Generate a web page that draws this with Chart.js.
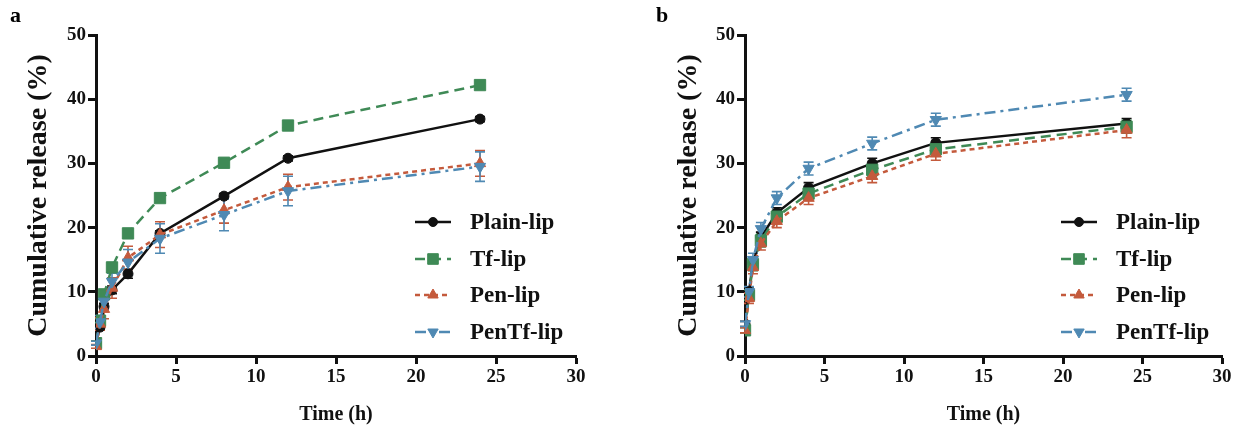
<!DOCTYPE html>
<html>
<head>
<meta charset="utf-8">
<script src="https://cdn.jsdelivr.net/npm/chart.js@4"></script>
<style>
  body { margin: 0; background: #fff; }
  #wrap { position: relative; width: 1257px; height: 431px; }
  .panel { position: absolute; top: 0; height: 431px; }
  .tag { position: absolute; top: 2px; font: bold 22px "Liberation Serif", serif; }
</style>
</head>
<body>
<div id="wrap">
  <div class="panel" style="left:0;width:628px"><canvas id="chartA"></canvas></div>
  <div class="panel" style="left:628px;width:629px"><canvas id="chartB"></canvas></div>
  <div class="tag" style="left:10px">a</div>
  <div class="tag" style="left:656px">b</div>
</div>
<script>
// time points (h)
const times = [0, 0.25, 0.5, 1, 2, 4, 8, 12, 24];
const seriesNames = ['Plain-lip', 'Tf-lip', 'Pen-lip', 'PenTf-lip'];

// panel a values (%)
const plainA = [2, 4.5, 7.7, 10.3, 12.8, 19.1, 24.9, 30.8, 36.9];
const tfA    = [2, 5.5, 9.6, 13.8, 19.1, 24.6, 30.1, 35.9, 42.2];
const penA   = [1.5, 5, 7.3, 10.6, 15.3, 18.9, 22.7, 26.3, 30];
const pentfA = [2, 5.3, 8.5, 11.6, 14.6, 18.3, 22, 25.7, 29.5];
// panel a error bars (+/-)
const plainAErr = [0.3, 0.4, 0.5, 0.6, 0.7, 0.4, 0.4, 0.4, 0.4];
const tfAErr    = [0.3, 0.3, 0.4, 0.4, 0.4, 0.4, 0.4, 0.5, 0.5];
const penAErr   = [0.3, 1, 1.5, 1.6, 1.8, 2, 2, 2, 2];
const pentfAErr = [0.3, 1, 1.2, 1.3, 2, 2.3, 2.5, 2.3, 2.3];

// panel b values (%)
const plainB = [5, 10, 14.5, 18.5, 22.3, 26.2, 30, 33.2, 36.2];
const tfB    = [4, 9.5, 14.3, 18, 21.7, 25.3, 29, 32.2, 35.7];
const penB   = [4, 9, 13.8, 17.5, 21, 24.6, 28, 31.5, 35.2];
const pentfB = [5, 10, 15, 19.8, 24.6, 29.2, 33.1, 36.8, 40.7];
// panel b error bars (+/-)
const plainBErr = [0.4, 0.6, 0.8, 0.8, 0.8, 0.8, 0.8, 0.8, 0.8];
const tfBErr    = [0.4, 0.8, 1, 1, 1, 1, 1, 1, 1];
const penBErr   = [0.4, 0.8, 1, 1, 1, 1, 1, 1, 1.2];
const pentfBErr = [0.4, 0.8, 1, 1, 1, 1, 1, 1, 1];

const yTicks = [0, 10, 20, 30, 40, 50];
const xTicks = [0, 5, 10, 15, 20, 25, 30];

const colors = ['#111111', '#3f8a56', '#c45a3c', '#4f89b3'];
const dashes = [[], [10, 6], [5, 4], [11, 5, 3, 5]];
const points = ['circle', 'rect', 'triangle', 'triangle'];
const rotations = [0, 0, 0, 180];
const radii = [5, 8, 6.5, 6.5];

const serif = '"Liberation Serif", "Times New Roman", serif';

function makeDatasets(valueLists) {
    return valueLists.map((vals, i) => ({
        label: seriesNames[i],
        data: vals.map((v, j) => ({ x: times[j], y: v })),
        borderColor: colors[i],
        backgroundColor: colors[i],
        borderDash: dashes[i],
        borderWidth: 2.5,
        pointStyle: points[i],
        pointRotation: rotations[i],
        pointRadius: radii[i],
        pointBorderWidth: 1,
        tension: 0,
        order: 4 - i
    }));
}

// error bars through the y scale
const errorBars = {
    id: 'errorBars',
    beforeDatasetsDraw(chart, args, opts) {
        const ctx = chart.ctx;
        const ys = chart.scales.y;
        chart.data.datasets.forEach((ds, i) => {
            const meta = chart.getDatasetMeta(i);
            const errs = opts.errors[i];
            ctx.save();
            ctx.strokeStyle = colors[i];
            ctx.lineWidth = 1.6;
            meta.data.forEach((pt, j) => {
                const v = ds.data[j].y;
                const top = ys.getPixelForValue(v + errs[j]);
                const bot = ys.getPixelForValue(v - errs[j]);
                ctx.beginPath();
                ctx.moveTo(pt.x, top); ctx.lineTo(pt.x, bot);
                ctx.moveTo(pt.x - 5, top); ctx.lineTo(pt.x + 5, top);
                ctx.moveTo(pt.x - 5, bot); ctx.lineTo(pt.x + 5, bot);
                ctx.stroke();
            });
            ctx.restore();
        });
    }
};

// legend inside the plot, bottom right
const insideLegend = {
    id: 'insideLegend',
    afterDraw(chart) {
        const ctx = chart.ctx;
        const area = chart.chartArea;
        const rows = [-134, -97, -61, -24];
        chart.data.datasets.forEach((ds, i) => {
            const y = area.bottom + rows[i];
            const x0 = area.right - 161;
            ctx.save();
            ctx.strokeStyle = colors[i];
            ctx.lineWidth = 2.5;
            ctx.setLineDash(dashes[i]);
            ctx.beginPath();
            ctx.moveTo(x0, y); ctx.lineTo(x0 + 36, y);
            ctx.stroke();
            ctx.setLineDash([]);
            ctx.fillStyle = colors[i];
            ctx.lineWidth = 1;
            Chart.helpers.drawPoint(ctx, {
                pointStyle: points[i], rotation: rotations[i], radius: radii[i] - 0.5, borderWidth: 1
            }, x0 + 18, y);
            ctx.fillStyle = '#111';
            ctx.font = 'bold 23px ' + serif;
            ctx.textBaseline = 'middle';
            ctx.fillText(ds.label, x0 + 55, y + 1);
            ctx.restore();
        });
    }
};

function makeChart(canvasId, valueLists, errLists, yAxisWidth, rightPad, titleOffset) {
    return new Chart(document.getElementById(canvasId), {
        type: 'line',
        data: { datasets: makeDatasets(valueLists) },
        options: {
            responsive: true,
            maintainAspectRatio: false,
            animation: false,
            layout: { padding: { top: 35, right: rightPad, left: 0, bottom: 0 } },
            plugins: {
                legend: { display: false },
                tooltip: { enabled: false },
                errorBars: { errors: errLists }
            },
            scales: {
                x: {
                    type: 'linear',
                    min: 0, max: 30,
                    afterBuildTicks: s => { s.ticks = xTicks.map(v => ({ value: v })); },
                    grid: { display: true, drawOnChartArea: false, drawTicks: true, tickLength: 8, tickWidth: 3, color: '#111' },
                    border: { display: true, width: 3, color: '#111' },
                    ticks: { color: '#111', padding: 2, font: { family: serif, size: 19, weight: 'bold' } },
                    title: { display: true, text: 'Time (h)', color: '#111', padding: { top: 4 }, font: { family: serif, size: 20, weight: 'bold' } },
                    afterFit: s => { s.height = 75; }
                },
                y: {
                    min: 0, max: 50,
                    afterBuildTicks: s => { s.ticks = yTicks.map(v => ({ value: v })); },
                    grid: { display: true, drawOnChartArea: false, drawTicks: true, tickLength: 8, tickWidth: 3, color: '#111' },
                    border: { display: true, width: 3, color: '#111' },
                    ticks: { color: '#111', padding: 2, font: { family: serif, size: 19, weight: 'bold' } },
                    title: { display: true, text: 'Cumulative release (%)', color: '#111', padding: { top: titleOffset, bottom: 0 }, font: { family: serif, size: 28, weight: 'bold' } },
                    afterFit: s => { s.width = yAxisWidth; }
                }
            }
        },
        plugins: [errorBars, insideLegend]
    });
}

makeChart('chartA', [plainA, tfA, penA, pentfA], [plainAErr, tfAErr, penAErr, pentfAErr], 96, 52, 22);
makeChart('chartB', [plainB, tfB, penB, pentfB], [plainBErr, tfBErr, penBErr, pentfBErr], 117, 35, 44);
</script>
</body>
</html>
